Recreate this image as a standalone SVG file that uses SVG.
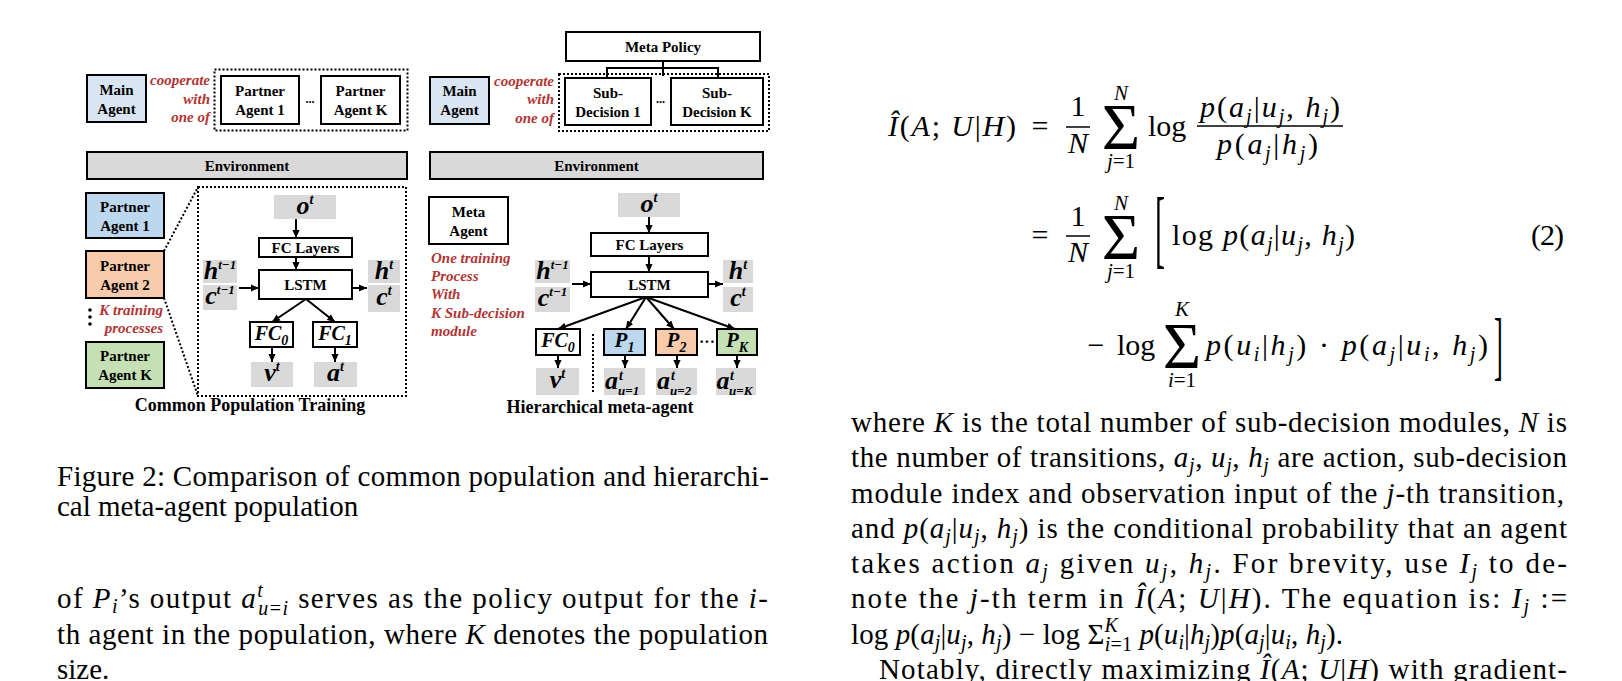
<svg xmlns="http://www.w3.org/2000/svg" width="1622" height="681" viewBox="0 0 1622 681">
<defs>
<style>
.bx{fill:#fff;stroke:#000;stroke-width:2}
.lblue{fill:#dae5f3}
.blue{fill:#bdd7ee}
.orange{fill:#f8cbad}
.green{fill:#c5e0b4}
.env{fill:#d9d9d9;stroke:#000;stroke-width:2}
.gy{fill:#d9d9d9}
.dotb{fill:none;stroke:#000;stroke-width:2;stroke-dasharray:2 2}
.t{font-family:"Liberation Serif","Times New Roman",serif;font-weight:bold;font-size:15px;text-anchor:middle;fill:#000}
.r{font-family:"Liberation Serif","Times New Roman",serif;font-weight:bold;font-style:italic;font-size:15px;fill:#b03535}
.m{font-family:"Liberation Serif","Times New Roman",serif;font-weight:bold;font-style:italic;font-size:26px;fill:#000;text-anchor:middle}
.ma{font-family:"Liberation Serif","Times New Roman",serif;font-weight:bold;font-style:italic;font-size:26px;fill:#000}
.ms{font-size:14px}
.mt{font-size:13px}
.ttl{font-family:"Liberation Serif","Times New Roman",serif;font-weight:bold;font-size:18px;text-anchor:middle;fill:#000}
.b{font-family:"Liberation Serif","Times New Roman",serif;font-size:29px;fill:#000}
.e{font-family:"Liberation Serif","Times New Roman",serif;font-size:30px;fill:#000}
.i{font-style:italic}
.s{font-size:20px}
.c{text-anchor:middle}
.ln{stroke:#000;stroke-width:2;fill:none}
.fb{stroke:#000;stroke-width:1.5;fill:none}
.ar{stroke:#000;stroke-width:2;fill:none;marker-end:url(#ah)}
.dl{stroke:#000;stroke-width:2;stroke-dasharray:2 2;fill:none}
</style>
<marker id="ah" viewBox="0 0 10 10" refX="10" refY="5" markerWidth="8" markerHeight="8" markerUnits="userSpaceOnUse" orient="auto"><path d="M0,0.5 L10,5 L0,9.5 z" fill="#000"/></marker>
</defs>

<!-- ===== Top-left panel ===== -->
<g id="main-agent-left"><rect class="bx lblue" x="87" y="75" width="59" height="47"/><text class="t" x="116.5" y="95">Main</text><text class="t" x="116.5" y="114">Agent</text></g>
<g id="coop-label-left"><text class="r" text-anchor="end" x="210" y="85">cooperate</text><text class="r" text-anchor="end" x="210" y="104">with</text><text class="r" text-anchor="end" x="210" y="122">one of</text></g>
<g id="partner-set-top"><rect class="dotb" x="214.5" y="69.5" width="193" height="61"/></g>
<g id="partner-agent-1-top"><rect class="bx" x="221" y="76" width="78" height="48"/><text class="t" x="260" y="96">Partner</text><text class="t" x="260" y="115">Agent 1</text></g>
<g id="ellipsis-top-left"><text class="t" x="310" y="103" style="font-size:12px">...</text></g>
<g id="partner-agent-k-top"><rect class="bx" x="321" y="76" width="79" height="48"/><text class="t" x="360.5" y="96">Partner</text><text class="t" x="360.5" y="115">Agent K</text></g>
<g id="environment-left"><rect class="env" x="87" y="152" width="320" height="27"/><text class="t" x="247" y="171">Environment</text></g>

<!-- ===== Top-right panel ===== -->
<g id="meta-policy"><rect class="bx" x="566" y="32" width="194" height="29"/><text class="t" x="663" y="52">Meta Policy</text></g>
<g id="main-agent-right"><rect class="bx lblue" x="430" y="77" width="59" height="47"/><text class="t" x="459.5" y="96">Main</text><text class="t" x="459.5" y="115">Agent</text></g>
<g id="coop-label-right"><text class="r" text-anchor="end" x="554" y="86">cooperate</text><text class="r" text-anchor="end" x="554" y="104">with</text><text class="r" text-anchor="end" x="554" y="123">one of</text></g>
<g id="subdecision-set"><rect class="dotb" x="559" y="74" width="210" height="57"/></g>
<g id="sub-decision-1"><rect class="bx" x="565" y="78" width="86" height="47"/><text class="t" x="608" y="98">Sub-</text><text class="t" x="608" y="117">Decision 1</text></g>
<g id="ellipsis-top-right"><text class="t" x="660.5" y="103" style="font-size:12px">...</text></g>
<g id="sub-decision-k"><rect class="bx" x="671" y="78" width="92" height="47"/><text class="t" x="717" y="98">Sub-</text><text class="t" x="717" y="117">Decision K</text></g>
<g id="environment-right"><rect class="env" x="430" y="152" width="333" height="27"/><text class="t" x="596.5" y="171">Environment</text></g>

<!-- ===== Bottom-left panel ===== -->
<g id="partner-agent-1"><rect class="bx blue" x="86" y="193" width="78" height="45"/><text class="t" x="125" y="212">Partner</text><text class="t" x="125" y="231">Agent 1</text></g>
<g id="partner-agent-2"><rect class="bx orange" x="86" y="251" width="78" height="47"/><text class="t" x="125" y="271">Partner</text><text class="t" x="125" y="290">Agent 2</text></g>
<g id="vdots"><circle cx="90" cy="310" r="1.8"/><circle cx="90" cy="317" r="1.8"/><circle cx="90" cy="324" r="1.8"/></g>
<g id="k-training-label"><text class="r" text-anchor="end" x="163" y="315">K training</text><text class="r" text-anchor="end" x="163" y="333">processes</text></g>
<g id="partner-agent-k"><rect class="bx green" x="86" y="342" width="78" height="46"/><text class="t" x="125" y="361">Partner</text><text class="t" x="125" y="380">Agent K</text></g>
<g id="network-left-frame"><rect class="dotb" x="198" y="187" width="208" height="209"/></g>
<g id="obs-left"><rect class="gy" x="274" y="195" width="62" height="24"/><text class="m" x="305" y="214">o<tspan class="ms" dy="-10">t</tspan></text></g>
<g id="fc-layers-left"><rect class="bx" x="259" y="238" width="93" height="19"/><text class="t" x="305.5" y="253">FC Layers</text></g>
<g id="lstm-left"><rect class="bx" x="259" y="270" width="93" height="29"/><text class="t" x="305.5" y="290">LSTM</text></g>
<g id="h-prev-left"><rect class="gy" x="203" y="260" width="34" height="23"/><text class="m" x="220" y="279">h<tspan class="mt" dy="-10">t−1</tspan></text></g>
<g id="c-prev-left"><rect class="gy" x="203" y="285" width="34" height="25"/><text class="m" x="220" y="304">c<tspan class="mt" dy="-10">t−1</tspan></text></g>
<g id="h-next-left"><rect class="gy" x="368" y="260" width="32" height="23"/><text class="m" x="384" y="279">h<tspan class="ms" dy="-10">t</tspan></text></g>
<g id="c-next-left"><rect class="gy" x="368" y="285" width="32" height="27"/><text class="m" x="384" y="305">c<tspan class="ms" dy="-10">t</tspan></text></g>
<g id="fc0-left"><rect class="bx" x="250" y="322" width="43" height="25"/><text class="m" x="271.5" y="340" style="font-size:20px">FC<tspan class="ms" dy="5">0</tspan></text></g>
<g id="fc1-left"><rect class="bx" x="313" y="322" width="44" height="25"/><text class="m" x="335" y="340" style="font-size:20px">FC<tspan class="ms" dy="5">1</tspan></text></g>
<g id="value-left"><rect class="gy" x="251" y="362" width="42" height="25"/><text class="m" x="272" y="381">v<tspan class="ms" dy="-10">t</tspan></text></g>
<g id="action-left"><rect class="gy" x="314" y="362" width="43" height="25"/><text class="m" x="335.5" y="381">a<tspan class="ms" dy="-10">t</tspan></text></g>
<g id="title-left"><text class="ttl" x="250" y="411">Common Population Training</text></g>

<!-- ===== Bottom-right panel ===== -->
<g id="meta-agent"><rect class="bx" x="429" y="197" width="79" height="47"/><text class="t" x="468.5" y="217">Meta</text><text class="t" x="468.5" y="236">Agent</text></g>
<g id="one-training-label"><text class="r" x="431" y="263">One training</text><text class="r" x="431" y="281">Process</text><text class="r" x="431" y="299">With</text><text class="r" x="431" y="318">K Sub-decision</text><text class="r" x="431" y="336">module</text></g>
<g id="obs-right"><rect class="gy" x="618" y="193" width="62" height="24"/><text class="m" x="649" y="212">o<tspan class="ms" dy="-10">t</tspan></text></g>
<g id="fc-layers-right"><rect class="bx" x="591" y="233" width="117" height="23"/><text class="t" x="649.5" y="250">FC Layers</text></g>
<g id="lstm-right"><rect class="bx" x="591" y="272" width="117" height="25"/><text class="t" x="649.5" y="290">LSTM</text></g>
<g id="h-prev-right"><rect class="gy" x="535" y="260" width="35" height="23"/><text class="m" x="552.5" y="279">h<tspan class="mt" dy="-10">t−1</tspan></text></g>
<g id="c-prev-right"><rect class="gy" x="535" y="287" width="35" height="25"/><text class="m" x="552.5" y="306">c<tspan class="mt" dy="-10">t−1</tspan></text></g>
<g id="h-next-right"><rect class="gy" x="723" y="260" width="30" height="23"/><text class="m" x="738" y="279">h<tspan class="ms" dy="-10">t</tspan></text></g>
<g id="c-next-right"><rect class="gy" x="723" y="287" width="30" height="25"/><text class="m" x="738" y="306">c<tspan class="ms" dy="-10">t</tspan></text></g>
<g id="fc0-right"><rect class="bx" x="536" y="329" width="44" height="26"/><text class="m" x="558" y="347" style="font-size:20px">FC<tspan class="ms" dy="5">0</tspan></text></g>
<g id="p1"><rect class="bx blue" x="604" y="329" width="41" height="26"/><text class="m" x="624.5" y="347" style="font-size:21px">P<tspan class="ms" dy="5">1</tspan></text></g>
<g id="p2"><rect class="bx orange" x="656" y="329" width="41" height="26"/><text class="m" x="676.5" y="347" style="font-size:21px">P<tspan class="ms" dy="5">2</tspan></text></g>
<g id="ellipsis-p"><text class="t" x="707" y="347" style="font-size:16px">···</text></g>
<g id="pk"><rect class="bx green" x="717" y="329" width="40" height="26"/><text class="m" x="737" y="347" style="font-size:21px">P<tspan class="ms" dy="5">K</tspan></text></g>
<g id="value-right"><rect class="gy" x="536" y="368" width="43" height="27"/><text class="m" x="557.5" y="388">v<tspan class="ms" dy="-10">t</tspan></text></g>
<g id="action-u1"><rect class="gy" x="604" y="368" width="41" height="27"/><text class="ma" x="605" y="389">a</text><text class="ma ms" x="619" y="380">t</text><text class="ma mt" x="618" y="395">u=1</text></g>
<g id="action-u2"><rect class="gy" x="656" y="368" width="41" height="27"/><text class="ma" x="657" y="389">a</text><text class="ma ms" x="671" y="380">t</text><text class="ma mt" x="670" y="395">u=2</text></g>
<g id="action-uk"><rect class="gy" x="716" y="368" width="40" height="27"/><text class="ma" x="716.5" y="389">a</text><text class="ma ms" x="730" y="380">t</text><text class="ma mt" x="729" y="395">u=K</text></g>
<g id="title-right"><text class="ttl" x="600" y="413">Hierarchical meta-agent</text></g>

<!-- ===== Connectors ===== -->
<g id="connectors">
<polyline class="ln" points="607,78 607,68 718,68 718,78"/>
<line class="ln" x1="663" y1="61" x2="663" y2="76"/>
<line class="dl" x1="164" y1="251" x2="198" y2="187"/>
<line class="dl" x1="164" y1="298" x2="198" y2="396"/>
<line class="ar" x1="296" y1="219" x2="296" y2="238"/>
<line class="ar" x1="296" y1="257" x2="296" y2="270"/>
<line class="ar" x1="239" y1="288" x2="259" y2="288"/>
<line class="ar" x1="352" y1="288" x2="367" y2="288"/>
<line class="ar" x1="306" y1="299" x2="272" y2="322"/>
<line class="ar" x1="306" y1="299" x2="335" y2="322"/>
<line class="ar" x1="272" y1="347" x2="272" y2="362"/>
<line class="ar" x1="335" y1="347" x2="335" y2="362"/>
<line class="ar" x1="649" y1="217" x2="649" y2="233"/>
<line class="ar" x1="649" y1="256" x2="649" y2="272"/>
<line class="ar" x1="572" y1="284" x2="591" y2="284"/>
<line class="ar" x1="708" y1="284" x2="723" y2="284"/>
<line class="ar" x1="646" y1="297" x2="558" y2="329"/>
<line class="ar" x1="646" y1="297" x2="626" y2="329"/>
<line class="ar" x1="646" y1="297" x2="674" y2="329"/>
<line class="ar" x1="646" y1="297" x2="735" y2="329"/>
<line class="ar" x1="558" y1="355" x2="558" y2="368"/>
<line class="ar" x1="625" y1="355" x2="625" y2="368"/>
<line class="ar" x1="677" y1="355" x2="677" y2="368"/>
<line class="ar" x1="737" y1="355" x2="737" y2="368"/>
<line class="dl" x1="593" y1="334" x2="593" y2="393"/>
</g>

<!-- ===== Equation (2) ===== -->
<g id="equation">
<text class="e" x="888" y="136" textLength="128"><tspan class="i">Î</tspan>(<tspan class="i">A</tspan>; <tspan class="i">U</tspan>|<tspan class="i">H</tspan>)</text>
<text class="e c" x="1040" y="136">=</text>
<text class="e c" x="1078" y="116">1</text>
<line class="fb" x1="1066" y1="127" x2="1090" y2="127"/>
<text class="e c i" x="1078" y="153">N</text>
<text class="e c" x="1121" y="149" style="font-size:66px">Σ</text>
<text class="e c i" x="1121" y="100" style="font-size:21px">N</text>
<text class="e c" x="1121" y="168" style="font-size:21px"><tspan class="i">j</tspan>=1</text>
<text class="e" x="1148" y="136">log</text>
<text class="e" x="1200" y="117" textLength="140"><tspan class="i">p</tspan>(<tspan class="i">a</tspan><tspan class="i s" dy="6">j</tspan><tspan dy="-6">|</tspan><tspan class="i">u</tspan><tspan class="i s" dy="6">j</tspan><tspan dy="-6">, </tspan><tspan class="i">h</tspan><tspan class="i s" dy="6">j</tspan><tspan dy="-6">)</tspan></text>
<line class="fb" x1="1197" y1="126" x2="1343" y2="126"/>
<text class="e" x="1217" y="154" textLength="101"><tspan class="i">p</tspan>(<tspan class="i">a</tspan><tspan class="i s" dy="6">j</tspan><tspan dy="-6">|</tspan><tspan class="i">h</tspan><tspan class="i s" dy="6">j</tspan><tspan dy="-6">)</tspan></text>

<text class="e c" x="1040" y="245">=</text>
<text class="e c" x="1078" y="226">1</text>
<line class="fb" x1="1066" y1="236" x2="1090" y2="236"/>
<text class="e c i" x="1078" y="262">N</text>
<text class="e c" x="1121" y="259" style="font-size:66px">Σ</text>
<text class="e c i" x="1121" y="210" style="font-size:21px">N</text>
<text class="e c" x="1121" y="278" style="font-size:21px"><tspan class="i">j</tspan>=1</text>
<text class="e" transform="translate(1155,257) scale(0.35,1)" style="font-size:86px">[</text>
<text class="e" x="1172" y="245" textLength="183">log <tspan class="i">p</tspan>(<tspan class="i">a</tspan><tspan class="i s" dy="6">j</tspan><tspan dy="-6">|</tspan><tspan class="i">u</tspan><tspan class="i s" dy="6">j</tspan><tspan dy="-6">, </tspan><tspan class="i">h</tspan><tspan class="i s" dy="6">j</tspan><tspan dy="-6">)</tspan></text>
<text class="e" x="1531" y="245" textLength="33">(2)</text>

<text class="e c" x="1096" y="355">−</text>
<text class="e" x="1117" y="355">log</text>
<text class="e c" x="1182" y="368" style="font-size:66px">Σ</text>
<text class="e c i" x="1182" y="316" style="font-size:21px">K</text>
<text class="e c" x="1182" y="387" style="font-size:21px"><tspan class="i">i</tspan>=1</text>
<text class="e" x="1206" y="355" textLength="282"><tspan class="i">p</tspan>(<tspan class="i">u</tspan><tspan class="i s" dy="6">i</tspan><tspan dy="-6">|</tspan><tspan class="i">h</tspan><tspan class="i s" dy="6">j</tspan><tspan dy="-6">) · </tspan><tspan class="i">p</tspan>(<tspan class="i">a</tspan><tspan class="i s" dy="6">j</tspan><tspan dy="-6">|</tspan><tspan class="i">u</tspan><tspan class="i s" dy="6">i</tspan><tspan dy="-6">, </tspan><tspan class="i">h</tspan><tspan class="i s" dy="6">j</tspan><tspan dy="-6">)</tspan></text>
<text class="e" transform="translate(1494,371) scale(0.35,1)" style="font-size:76px">]</text>
</g>

<!-- ===== Right column text ===== -->
<g id="right-text">
<text class="b" x="851" y="432" textLength="716">where <tspan class="i">K</tspan> is the total number of sub-decision modules, <tspan class="i">N</tspan> is</text>
<text class="b" x="851" y="467" textLength="716">the number of transitions, <tspan class="i">a</tspan><tspan class="i s" dy="5">j</tspan><tspan dy="-5">, </tspan><tspan class="i">u</tspan><tspan class="i s" dy="5">j</tspan><tspan dy="-5">, </tspan><tspan class="i">h</tspan><tspan class="i s" dy="5">j</tspan><tspan dy="-5"> are action, sub-decision</tspan></text>
<text class="b" x="851" y="503" textLength="713">module index and observation input of the <tspan class="i">j</tspan>-th transition,</text>
<text class="b" x="851" y="538" textLength="716">and <tspan class="i">p</tspan>(<tspan class="i">a</tspan><tspan class="i s" dy="5">j</tspan><tspan dy="-5">|</tspan><tspan class="i">u</tspan><tspan class="i s" dy="5">j</tspan><tspan dy="-5">, </tspan><tspan class="i">h</tspan><tspan class="i s" dy="5">j</tspan><tspan dy="-5">) is the conditional probability that an agent</tspan></text>
<text class="b" x="851" y="573" textLength="716">takes action <tspan class="i">a</tspan><tspan class="i s" dy="5">j</tspan><tspan dy="-5"> given </tspan><tspan class="i">u</tspan><tspan class="i s" dy="5">j</tspan><tspan dy="-5">, </tspan><tspan class="i">h</tspan><tspan class="i s" dy="5">j</tspan><tspan dy="-5">. For brevity, use </tspan><tspan class="i">I</tspan><tspan class="i s" dy="5">j</tspan><tspan dy="-5"> to de-</tspan></text>
<text class="b" x="851" y="608" textLength="716">note the <tspan class="i">j</tspan>-th term in <tspan class="i">Î</tspan>(<tspan class="i">A</tspan>; <tspan class="i">U</tspan>|<tspan class="i">H</tspan>). The equation is: <tspan class="i">I</tspan><tspan class="i s" dy="5">j</tspan><tspan dy="-5"> :=</tspan></text>
<text class="b" x="851" y="644" textLength="492">log <tspan class="i">p</tspan>(<tspan class="i">a</tspan><tspan class="i s" dy="5">j</tspan><tspan dy="-5">|</tspan><tspan class="i">u</tspan><tspan class="i s" dy="5">j</tspan><tspan dy="-5">, </tspan><tspan class="i">h</tspan><tspan class="i s" dy="5">j</tspan><tspan dy="-5">) − log Σ</tspan><tspan class="i s" dy="-12">K</tspan><tspan class="i s" dx="-13" dy="19">i</tspan><tspan class="s">=1</tspan><tspan class="i" dy="-7"> p</tspan>(<tspan class="i">u</tspan><tspan class="i s" dy="5">i</tspan><tspan dy="-5">|</tspan><tspan class="i">h</tspan><tspan class="i s" dy="5">j</tspan><tspan dy="-5">)</tspan><tspan class="i">p</tspan>(<tspan class="i">a</tspan><tspan class="i s" dy="5">j</tspan><tspan dy="-5">|</tspan><tspan class="i">u</tspan><tspan class="i s" dy="5">i</tspan><tspan dy="-5">, </tspan><tspan class="i">h</tspan><tspan class="i s" dy="5">j</tspan><tspan dy="-5">).</tspan></text>
<text class="b" x="879" y="679" textLength="688">Notably, directly maximizing <tspan class="i">Î</tspan>(<tspan class="i">A</tspan>; <tspan class="i">U</tspan>|<tspan class="i">H</tspan>) with gradient-</text>
</g>

<!-- ===== Left column text ===== -->
<g id="left-text">
<text class="b" x="57" y="486" textLength="712">Figure 2: Comparison of common population and hierarchi-</text>
<text class="b" x="57" y="516">cal meta-agent population</text>
<text class="b" x="57" y="608" textLength="711">of <tspan class="i">P</tspan><tspan class="i s" dy="5">i</tspan><tspan dy="-5">’s output </tspan><tspan class="i">a</tspan><tspan class="i s" dy="-11">t</tspan><tspan class="i s" dx="-6" dy="18">u</tspan><tspan class="s">=</tspan><tspan class="i s">i</tspan><tspan dy="-7"> serves as the policy output for the </tspan><tspan class="i">i</tspan>-</text>
<text class="b" x="57" y="644" textLength="711">th agent in the population, where <tspan class="i">K</tspan> denotes the population</text>
<text class="b" x="57" y="679">size.</text>
</g>
</svg>
